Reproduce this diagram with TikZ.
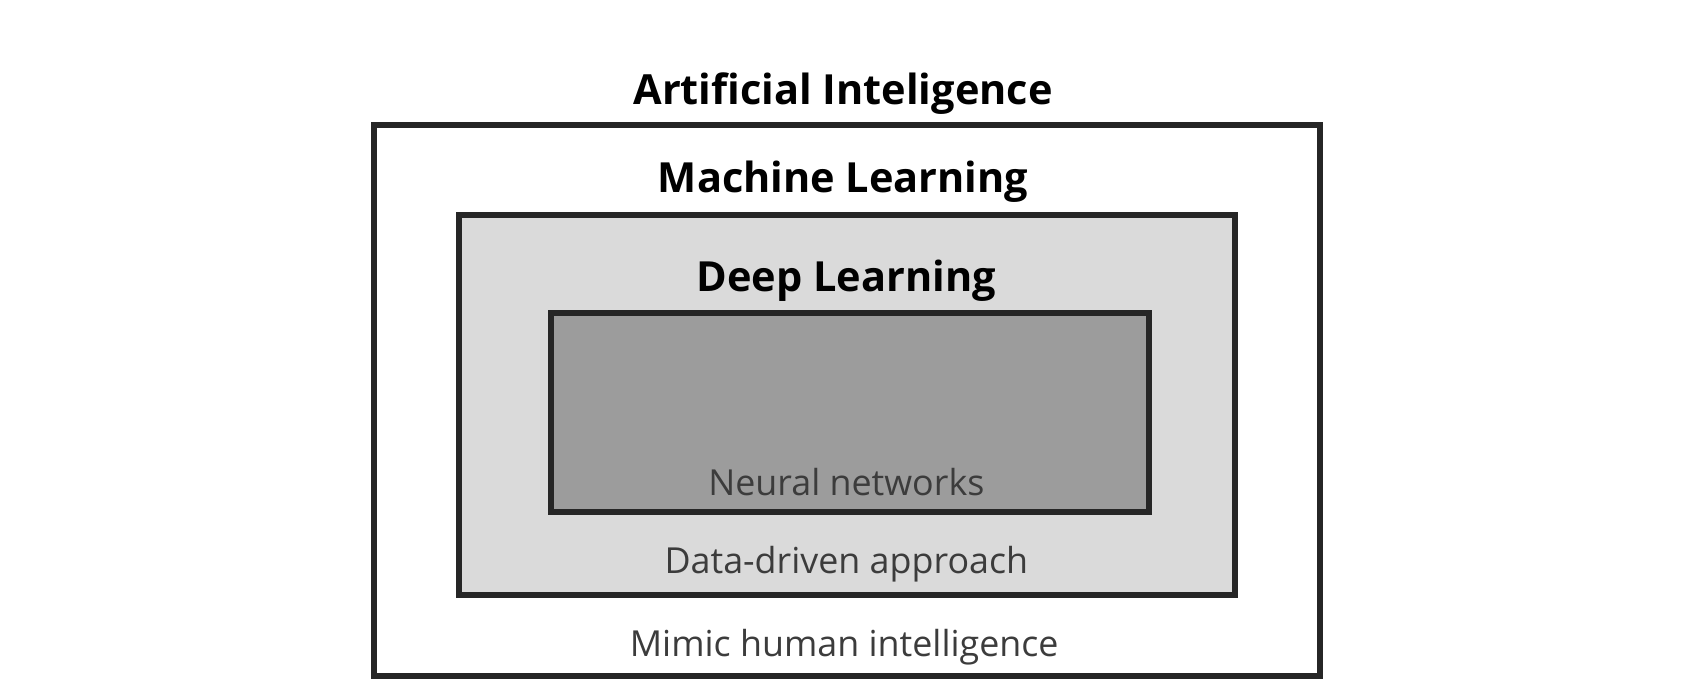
\documentclass[tikz,border=0pt]{standalone}
\usepackage{fontspec}
\setmainfont{Open Sans}
\usetikzlibrary{positioning}
\definecolor{mlgray}{RGB}{218,218,218}
\definecolor{dlgray}{RGB}{156,156,156}
\definecolor{txtgray}{RGB}{60,60,60}
\tikzset{
  box/.style={draw=black!85, line width=1.6pt, inner sep=0pt, anchor=north west},
  title/.style={font=\fontsize{11}{13}\selectfont\bfseries},
  note/.style={font=\fontsize{9.5}{11}\selectfont, text=txtgray}
}
\begin{document}
\begin{tikzpicture}[x=0.01cm, y=-0.01cm]

   % Frame
      \useasboundingbox (0,0) rectangle (1568,643);

   % Boxes
      \node[box, minimum width=8.81cm, minimum height=5.13cm]                 (ai) at (346,114) {};
      \node[box, fill=mlgray, minimum width=7.23cm, minimum height=3.54cm]    (ml) at (425,198) {};
      \node[box, fill=dlgray, minimum width=5.57cm, minimum height=1.85cm]    (dl) at (511,289) {};

   % Labels
      \node[title]  (aiT)  at (786,87)  {Artificial Inteligence};
      \node[title]  (mlT)  at (786,169) {Machine Learning};
      \node[title]  (dlT)  at (789,262) {Deep Learning};
      \node[note]   (dlN)  at (789,449) {Neural networks};
      \node[note]   (mlN)  at (789,526) {Data-driven approach};
      \node[note]   (aiN)  at (787,603) {Mimic human intelligence};
\end{tikzpicture}
\end{document}
